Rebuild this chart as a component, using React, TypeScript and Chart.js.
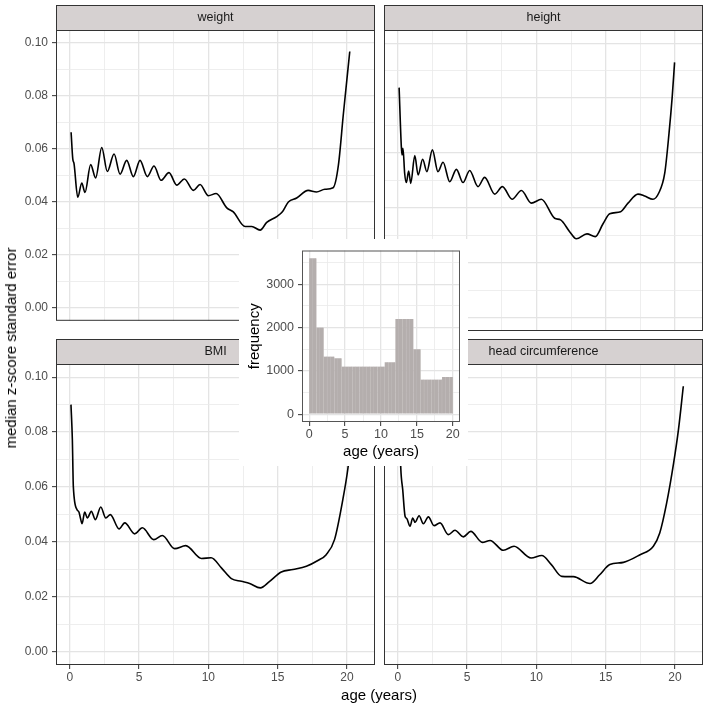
import React, { useEffect, useRef } from 'react';
import { Chart, registerables } from 'chart.js';
Chart.register(...registerables);

const FONT = '"Liberation Sans", Arial, Helvetica, sans-serif';

// ---------- data ----------
const weightAge = [0.1, 0.22, 0.31, 0.58, 0.87, 1.1, 1.51, 1.87, 2.31, 2.71, 3.2, 3.63, 4.11, 4.59, 5.07, 5.6, 6.08, 6.59, 7.16, 7.72, 8.27, 8.92, 9.4, 10.0, 10.56, 11.33, 11.8, 12.65, 13.13, 13.73, 14.21, 14.93, 15.34, 15.77, 16.37, 17.2, 17.8, 18.4, 19.0, 19.38, 19.74, 20.2];
const weightSE = [0.0662, 0.0562, 0.0544, 0.0417, 0.0471, 0.0435, 0.054, 0.049, 0.0605, 0.0514, 0.058, 0.0504, 0.0556, 0.0495, 0.0556, 0.0495, 0.0535, 0.0481, 0.051, 0.0463, 0.0486, 0.0443, 0.0465, 0.0423, 0.0431, 0.0377, 0.0362, 0.0307, 0.0307, 0.0293, 0.0322, 0.0344, 0.0362, 0.0399, 0.0414, 0.0443, 0.0437, 0.0447, 0.0453, 0.0538, 0.0732, 0.0967];

const heightAge = [0.1, 0.26, 0.31, 0.38, 0.5, 0.62, 0.79, 0.94, 1.23, 1.47, 1.8, 2.1, 2.5, 2.9, 3.27, 3.75, 4.23, 4.71, 5.19, 5.79, 6.27, 7.0, 7.55, 8.25, 8.92, 9.64, 10.36, 11.32, 11.75, 12.4, 12.88, 13.65, 14.25, 14.8, 15.29, 16.08, 16.61, 17.33, 17.81, 18.41, 18.82, 19.26, 19.57, 19.8, 19.97];
const heightSE = [0.0838, 0.0623, 0.0593, 0.0617, 0.0526, 0.0492, 0.0534, 0.0489, 0.059, 0.052, 0.0577, 0.0532, 0.0611, 0.0532, 0.0566, 0.0495, 0.054, 0.0492, 0.0536, 0.0477, 0.0511, 0.045, 0.0477, 0.0431, 0.0463, 0.0417, 0.0431, 0.0362, 0.0356, 0.0313, 0.0287, 0.0305, 0.0295, 0.0341, 0.0378, 0.0386, 0.0417, 0.045, 0.0443, 0.0431, 0.0453, 0.0526, 0.0672, 0.0805, 0.093];

const bmiAge = [0.09, 0.19, 0.26, 0.53, 0.67, 0.77, 0.89, 1.08, 1.27, 1.56, 1.85, 2.24, 2.6, 2.93, 3.56, 3.97, 4.69, 5.24, 6.06, 6.68, 7.57, 8.37, 9.5, 10.2, 10.94, 11.66, 12.38, 12.98, 13.75, 14.42, 15.26, 16.1, 17.07, 17.9, 18.5, 19.1, 19.7, 20.07, 20.4];
const bmiSE = [0.09, 0.0772, 0.0602, 0.0517, 0.0508, 0.0487, 0.0466, 0.0508, 0.0487, 0.0511, 0.0481, 0.0527, 0.0487, 0.0499, 0.0447, 0.0469, 0.0429, 0.0451, 0.0408, 0.0423, 0.0375, 0.0386, 0.0339, 0.0342, 0.0305, 0.0266, 0.0256, 0.0248, 0.0232, 0.0256, 0.029, 0.0299, 0.0311, 0.0332, 0.0353, 0.0408, 0.0554, 0.0669, 0.082];

const headAge = [0.1, 0.22, 0.36, 0.53, 0.65, 0.89, 1.08, 1.25, 1.54, 1.85, 2.21, 2.62, 3.05, 3.65, 4.13, 4.73, 5.27, 6.1, 6.66, 7.62, 8.39, 9.62, 10.39, 11.08, 11.83, 12.67, 13.87, 14.57, 15.3, 16.28, 17.48, 18.44, 18.9, 19.4, 19.9, 20.25, 20.6];
const headSE = [0.088, 0.0669, 0.059, 0.0493, 0.0485, 0.0457, 0.0487, 0.0471, 0.0495, 0.0466, 0.0491, 0.0459, 0.0469, 0.0426, 0.0442, 0.0418, 0.0438, 0.0398, 0.0405, 0.0369, 0.0384, 0.0341, 0.035, 0.0317, 0.0274, 0.0273, 0.0248, 0.028, 0.0317, 0.0325, 0.0353, 0.0384, 0.0432, 0.0542, 0.0687, 0.0809, 0.0967];

const histBinMid = [0.25, 0.75, 1.25, 1.75, 2.25, 2.75, 3.25, 3.75, 4.25, 4.75, 5.25, 5.75, 6.25, 6.75, 7.25, 7.75, 8.25, 8.75, 9.25, 9.75, 10.25, 10.75, 11.25, 11.75, 12.25, 12.75, 13.25, 13.75, 14.25, 14.75, 15.25, 15.75, 16.25, 16.75, 17.25, 17.75, 18.25, 18.75, 19.25, 19.75];
const histCount = [3600, 3600, 2000, 2000, 1330, 1330, 1330, 1290, 1290, 1100, 1100, 1100, 1100, 1100, 1100, 1100, 1100, 1100, 1100, 1100, 1100, 1200, 1200, 1200, 2200, 2200, 2200, 2200, 2200, 1500, 1500, 800, 800, 800, 800, 800, 800, 860, 860, 860];

const xMajor = [0, 5, 10, 15, 20];
const xMinor = [2.5, 7.5, 12.5, 17.5];
const yMajor = [0, 0.02, 0.04, 0.06, 0.08, 0.1];
const yMinor = [0.01, 0.03, 0.05, 0.07, 0.09];
const hYMajor = [0, 1000, 2000, 3000];
const hYMinor = [500, 1500, 2500, 3500];

// ---------- style ----------
const GRID_MAJOR = '#E4E4E4';
const GRID_MINOR = '#EAEAEA';
const BORDER = '#333333';
const TICK_TEXT = '#4D4D4D';
const STRIP_FILL = '#D6D1D1';
const BAR_FILL = '#B4AEAD';

const isIn = (list: number[], v: any) => typeof v === 'number' && list.some((m) => Math.abs(m - v) < 1e-9);

const decor = {
  id: 'decor',
  beforeDraw(chart: any, _a: any, opts: any) {
    if (opts.bg) {
      const { ctx, width, height } = chart;
      ctx.save();
      ctx.fillStyle = '#FFFFFF';
      ctx.fillRect(0, 0, width, height);
      ctx.restore();
    }
  },
  afterDraw(chart: any, _a: any, opts: any) {
    const { ctx, chartArea: a } = chart;
    ctx.save();
    ctx.lineWidth = 1;
    ctx.strokeStyle = opts.borderColor || BORDER;
    if (opts.strip) {
      const h = opts.stripH;
      ctx.fillStyle = STRIP_FILL;
      ctx.fillRect(a.left, a.top - h, a.right - a.left, h);
      ctx.strokeRect(a.left + 0.5, a.top - h + 0.5, a.right - a.left - 1, h);
      ctx.fillStyle = '#1A1A1A';
      ctx.font = `12.5px ${FONT}`;
      ctx.textAlign = 'center';
      ctx.textBaseline = 'middle';
      ctx.fillText(opts.strip, (a.left + a.right) / 2, a.top - h / 2 + 0.5);
    }
    ctx.strokeRect(a.left + 0.5, a.top + 0.5, a.right - a.left - 1, a.bottom - a.top - 1);
    ctx.restore();
  },
};

function gridFor(major: number[], showTicks: boolean) {
  return {
    color: (c: any) => (isIn(major, c.tick && c.tick.value) ? GRID_MAJOR : GRID_MINOR),
    lineWidth: (c: any) => (isIn(major, c.tick && c.tick.value) ? 1.3 : 0.8),
    drawTicks: showTicks,
    tickLength: 4,
    tickWidth: 1,
    tickColor: (c: any) => (isIn(major, c.tick && c.tick.value) ? BORDER : 'rgba(0,0,0,0)'),
  };
}

type PanelSpec = {
  title: string;
  ages: number[];
  vals: number[];
  L: number; T: number; R: number; B: number;
  showY: boolean; showX: boolean;
};

const STRIP_H = 25;

const panels: PanelSpec[] = [
  { title: 'weight', ages: weightAge, vals: weightSE, L: 56, T: 30, R: 375, B: 331, showY: true, showX: false },
  { title: 'height', ages: heightAge, vals: heightSE, L: 384, T: 30, R: 703, B: 331, showY: false, showX: false },
  { title: 'BMI', ages: bmiAge, vals: bmiSE, L: 56, T: 364, R: 375, B: 665, showY: true, showX: true },
  { title: 'head circumference', ages: headAge, vals: headSE, L: 384, T: 364, R: 703, B: 665, showY: false, showX: true },
];

function Panel({ p }: { p: PanelSpec }) {
  const ref = useRef<HTMLCanvasElement | null>(null);
  const padL = p.showY ? 0 : 1;
  const yW = p.showY ? p.L : 0;
  const xH = p.showX ? 22 : 0;
  const padB = p.showX ? 0 : 1;
  const left = p.L - yW - padL;
  const top = p.T - STRIP_H;
  const width = padL + yW + (p.R - p.L) + 1;
  const height = STRIP_H + (p.B - p.T) + xH + padB;

  useEffect(() => {
    const chart = new Chart(ref.current as HTMLCanvasElement, {
      type: 'line',
      data: {
        datasets: [
          {
            data: p.ages.map((a, i) => ({ x: a, y: p.vals[i] })),
            borderColor: '#000000',
            borderWidth: 1.6,
            pointRadius: 0,
            fill: false,
            cubicInterpolationMode: 'monotone',
          },
        ],
      },
      options: {
        responsive: false,
        animation: false,
        events: [],
        layout: { padding: { left: padL, top: STRIP_H, right: 1, bottom: padB } },
        plugins: {
          legend: { display: false },
          tooltip: { enabled: false },
          decor: { strip: p.title, stripH: STRIP_H },
        } as any,
        scales: {
          x: {
            type: 'linear',
            min: -0.99,
            max: 22.02,
            afterBuildTicks: (s: any) => {
              s.ticks = [...xMajor, ...xMinor].sort((a, b) => a - b).map((v) => ({ value: v }));
            },
            afterFit: (s: any) => {
              s.height = xH;
            },
            border: { display: false },
            grid: gridFor(xMajor, p.showX),
            ticks: {
              display: p.showX,
              autoSkip: false,
              maxRotation: 0,
              padding: 1.5,
              color: TICK_TEXT,
              font: { family: FONT, size: 12 },
              callback: (v: any) => (isIn(xMajor, v) ? String(v) : ''),
            },
          },
          y: {
            type: 'linear',
            min: -0.0049,
            max: 0.1048,
            afterBuildTicks: (s: any) => {
              s.ticks = [...yMajor, ...yMinor].sort((a, b) => a - b).map((v) => ({ value: v }));
            },
            afterFit: (s: any) => {
              s.width = yW;
            },
            border: { display: false },
            grid: gridFor(yMajor, p.showY),
            ticks: {
              display: p.showY,
              autoSkip: false,
              padding: 4,
              color: TICK_TEXT,
              font: { family: FONT, size: 12 },
              callback: (v: any) => (isIn(yMajor, v) ? Number(v).toFixed(2) : ''),
            },
          },
        },
      } as any,
      plugins: [decor],
    });
    return () => chart.destroy();
  }, []);

  return (
    <canvas
      ref={ref}
      width={width}
      height={height}
      style={{ position: 'absolute', left, top, width, height }}
    />
  );
}

function Inset() {
  const ref = useRef<HTMLCanvasElement | null>(null);
  const left = 239, top = 239, width = 229, height = 227;
  useEffect(() => {
    const chart = new Chart(ref.current as HTMLCanvasElement, {
      type: 'bar',
      data: {
        datasets: [
          {
            data: histBinMid.map((m, i) => ({ x: m, y: histCount[i] })),
            backgroundColor: BAR_FILL,
            borderColor: '#C8C3C2',
            borderWidth: { left: 0, right: 0.5, top: 0, bottom: 0 },
            barPercentage: 1,
            categoryPercentage: 1,
          },
        ],
      },
      options: {
        responsive: false,
        animation: false,
        events: [],
        layout: { padding: { left: 0, top: 7, right: 8, bottom: 0 } },
        plugins: {
          legend: { display: false },
          tooltip: { enabled: false },
          decor: { bg: true, borderColor: '#555555' },
        } as any,
        scales: {
          x: {
            type: 'linear',
            min: -1,
            max: 21,
            offset: false,
            afterBuildTicks: (s: any) => {
              s.ticks = [...xMajor, ...xMinor].sort((a, b) => a - b).map((v) => ({ value: v }));
            },
            afterFit: (s: any) => {
              s.height = 44;
            },
            border: { display: false },
            grid: { ...gridFor(xMajor, true), offset: false },
            title: {
              display: true,
              text: 'age (years)',
              color: '#000000',
              font: { family: FONT, size: 15 },
              padding: { top: 0, bottom: 5 },
            },
            ticks: {
              autoSkip: false,
              maxRotation: 0,
              padding: 1,
              color: TICK_TEXT,
              font: { family: FONT, size: 12.5 },
              callback: (v: any) => (isIn(xMajor, v) ? String(v) : ''),
            },
          },
          y: {
            type: 'linear',
            min: -180,
            max: 3780,
            afterBuildTicks: (s: any) => {
              s.ticks = [...hYMajor, ...hYMinor].sort((a, b) => a - b).map((v) => ({ value: v }));
            },
            afterFit: (s: any) => {
              s.width = 63;
            },
            border: { display: false },
            grid: gridFor(hYMajor, true),
            title: {
              display: true,
              text: 'frequency',
              color: '#000000',
              font: { family: FONT, size: 15 },
              padding: { top: 7, bottom: 0 },
            },
            ticks: {
              autoSkip: false,
              padding: 4,
              color: TICK_TEXT,
              font: { family: FONT, size: 12.5 },
              callback: (v: any) => (isIn(hYMajor, v) ? String(v) : ''),
            },
          },
        },
      } as any,
      plugins: [decor],
    });
    return () => chart.destroy();
  }, []);
  return (
    <canvas
      ref={ref}
      width={width}
      height={height}
      style={{ position: 'absolute', left, top, width, height }}
    />
  );
}

export default function App() {
  return (
    <div
      style={{
        position: 'fixed',
        left: 0,
        top: 0,
        width: 707,
        height: 707,
        background: '#FFFFFF',
        overflow: 'hidden',
        fontFamily: FONT,
      }}
    >
      {panels.map((p) => (
        <Panel key={p.title} p={p} />
      ))}
      <div
        style={{
          position: 'absolute',
          left: 11,
          top: 348,
          transform: 'translate(-50%, -50%) rotate(-90deg)',
          fontSize: 15,
          whiteSpace: 'nowrap',
          color: '#000000',
          lineHeight: '18px',
        }}
      >
        median z-score standard error
      </div>
      <div
        style={{
          position: 'absolute',
          left: 379,
          top: 695,
          transform: 'translate(-50%, -50%)',
          fontSize: 15,
          whiteSpace: 'nowrap',
          color: '#000000',
          lineHeight: '18px',
        }}
      >
        age (years)
      </div>
      <Inset />
    </div>
  );
}
